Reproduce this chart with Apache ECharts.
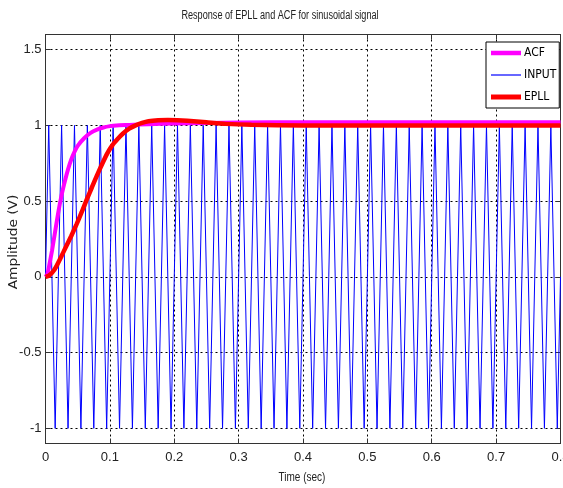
<!DOCTYPE html>
<html><head><meta charset="utf-8">
<script src="https://cdn.jsdelivr.net/npm/echarts@6/dist/echarts.min.js"></script>
<style>html,body{margin:0;padding:0;background:#fff}#c{width:563px;height:488px}</style>
</head><body><div id="c"></div>
<script>
const titleText = 'Response of EPLL and ACF for sinusoidal signal';
const xName = 'Time (sec)';
const yName = 'Amplitude (V)';
const seriesNames = ['ACF', 'INPUT', 'EPLL'];
const seriesColors = ['#ff00ff', '#0000ff', '#ff0000'];

// ACF response (time s, amplitude V)
const acfTime   = [0, 0.003, 0.006, 0.01, 0.015, 0.02, 0.025, 0.03, 0.035, 0.04, 0.045, 0.05, 0.06, 0.07, 0.08, 0.09, 0.1, 0.11, 0.13, 0.16, 0.2, 0.25, 0.35, 0.5, 0.65, 0.8];
const acfValues = [0, 0.02, 0.08, 0.17, 0.3, 0.43, 0.54, 0.63, 0.71, 0.775, 0.825, 0.865, 0.915, 0.95, 0.972, 0.986, 0.995, 1.0, 1.003, 1.008, 1.012, 1.016, 1.02, 1.02, 1.02, 1.02];

// EPLL response
const epllTime   = [0, 0.004, 0.008, 0.012, 0.016, 0.024, 0.032, 0.04, 0.048, 0.056, 0.064, 0.072, 0.08, 0.088, 0.096, 0.104, 0.112, 0.12, 0.13, 0.14, 0.15, 0.16, 0.175, 0.19, 0.205, 0.22, 0.25, 0.28, 0.32, 0.4, 0.5, 0.6, 0.7, 0.8];
const epllValues = [0, 0.005, 0.018, 0.037, 0.063, 0.13, 0.2, 0.27, 0.345, 0.425, 0.51, 0.59, 0.67, 0.745, 0.815, 0.87, 0.91, 0.945, 0.978, 1.0, 1.016, 1.027, 1.034, 1.036, 1.034, 1.03, 1.02, 1.01, 1.004, 1.0, 1.0, 1.0, 1.0, 1.0];

// INPUT sinusoid, sampled every quarter period (0.005 s)
const inputStep = 0.005;
const inputValues = [
  0,1,0,-1,0,1,0,-1,0,1,0,-1,0,1,0,-1,0,1,0,-1,0,1,0,-1,0,1,0,-1,0,1,0,-1,0,1,0,-1,0,1,0,-1,
  0,1,0,-1,0,1,0,-1,0,1,0,-1,0,1,0,-1,0,1,0,-1,0,1,0,-1,0,1,0,-1,0,1,0,-1,0,1,0,-1,0,1,0,-1,
  0,1,0,-1,0,1,0,-1,0,1,0,-1,0,1,0,-1,0,1,0,-1,0,1,0,-1,0,1,0,-1,0,1,0,-1,0,1,0,-1,0,1,0,-1,
  0,1,0,-1,0,1,0,-1,0,1,0,-1,0,1,0,-1,0,1,0,-1,0,1,0,-1,0,1,0,-1,0,1,0,-1,0,1,0,-1,0,1,0,-1,
  0
];

const xMin = 0, xMax = 0.8, xInterval = 0.1;
const yMin = -1.1, yMax = 1.6;

const pair = (ts, vs) => ts.map((t, i) => [t, vs[i]]);
const inputData = inputValues.map((v, i) => [+(i * inputStep).toFixed(4), v]);

const sans = "'Liberation Sans', Arial, sans-serif";
const cond = "'DejaVu Sans Condensed', 'Liberation Sans', sans-serif";
const frame = '#333';
const gridLine = { show: true, lineStyle: { color: '#000', width: 1, type: [2, 3] } };
const frameAxis = { show: true, onZero: false, lineStyle: { color: frame, width: 1 } };
const inTick = { show: true, inside: true, length: 5, lineStyle: { color: frame } };

const chart = echarts.init(document.getElementById('c'), null, { renderer: 'canvas' });
chart.setOption({
  animation: false,
  backgroundColor: '#fff',
  grid: { left: 45.5, right: 2.5, top: 34.5, bottom: 44.5, containLabel: false, outerBoundsMode: 'none' },
  xAxis: [{
    type: 'value', min: xMin, max: xMax, interval: xInterval, position: 'bottom',
    axisLine: frameAxis, axisTick: inTick,
    axisLabel: { color: '#222', fontFamily: sans, fontSize: 13, margin: 7 },
    splitLine: gridLine
  }, {
    type: 'value', min: xMin, max: xMax, interval: xInterval, position: 'top',
    axisLine: frameAxis, axisTick: inTick,
    axisLabel: { show: false }, splitLine: { show: false }
  }],
  yAxis: [{
    type: 'value', min: yMin, max: yMax, position: 'left',
    axisLine: frameAxis, axisTick: inTick,
    axisLabel: { color: '#222', fontFamily: sans, fontSize: 13, margin: 4, showMinLabel: false, showMaxLabel: false },
    splitLine: gridLine
  }, {
    type: 'value', min: yMin, max: yMax, position: 'right',
    axisLine: frameAxis, axisTick: inTick,
    axisLabel: { show: false }, splitLine: { show: false }
  }],
  legend: {
    orient: 'vertical', left: 486, top: 42,
    itemWidth: 30, itemHeight: 14, itemGap: 10,
    padding: [5, 3, 5, 5],
    backgroundColor: '#fff', borderColor: '#000', borderWidth: 1, borderRadius: 0,
    textStyle: { fontFamily: cond, fontSize: 12, color: '#000', padding: [0, 0, 0, -2] },
    data: [
      { name: seriesNames[0], icon: 'path://M0,0H30V4.5H0Z' },
      { name: seriesNames[1], icon: 'path://M0,0H30V1.2H0Z' },
      { name: seriesNames[2], icon: 'path://M0,0H30V5H0Z' }
    ]
  },
  graphic: [
    { type: 'text', x: 280, y: 16, scaleX: 0.76, style: { text: titleText, fill: '#222', font: "12px " + sans, textAlign: 'center', textVerticalAlign: 'middle' } },
    { type: 'text', x: 302, y: 477, scaleX: 0.77, style: { text: xName, fill: '#222', font: "13px " + sans, textAlign: 'center', textVerticalAlign: 'middle' } },
    { type: 'text', x: 14, y: 242, rotation: Math.PI / 2, scaleX: 1.14, style: { text: yName, fill: '#222', font: "12px 'DejaVu Sans', sans-serif", textAlign: 'center', textVerticalAlign: 'middle' } }
  ],
  series: [
    { name: seriesNames[1], type: 'line', data: inputData, showSymbol: false, symbol: 'none',
      color: seriesColors[1], lineStyle: { color: seriesColors[1], width: 1 }, z: 2 },
    { name: seriesNames[0], type: 'line', data: pair(acfTime, acfValues), showSymbol: false, symbol: 'none', smooth: 0.2,
      color: seriesColors[0], lineStyle: { color: seriesColors[0], width: 4 }, z: 3 },
    { name: seriesNames[2], type: 'line', data: pair(epllTime, epllValues), showSymbol: false, symbol: 'none', smooth: 0.2,
      color: seriesColors[2], lineStyle: { color: seriesColors[2], width: 4.5 }, z: 4 }
  ]
});
</script></body></html>
